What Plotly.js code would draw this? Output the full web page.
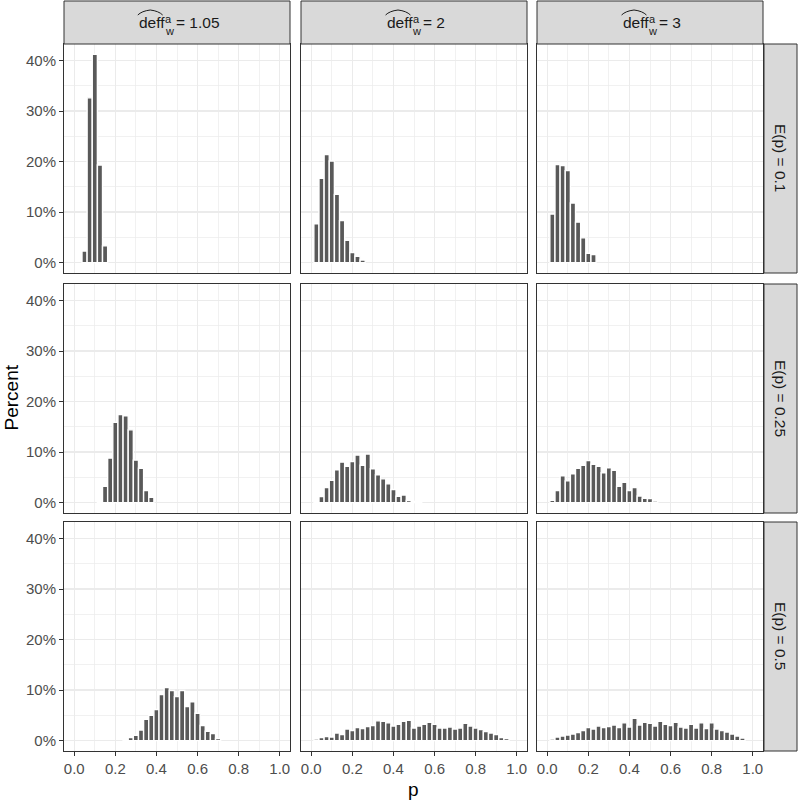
<!DOCTYPE html>
<html><head><meta charset="utf-8">
<script src="https://cdn.plot.ly/plotly-3.0.1.min.js"></script>
<style>html,body{margin:0;padding:0;background:#fff}#chart{width:800px;height:800px}</style>
</head><body><div id="chart"></div>
<script>
// ---- data ----
const colLabels = ['1.05', '2', '3'];          // deff_w^a values (columns)
const rowLabels = ['0.1', '0.25', '0.5'];       // E(p) values (rows)
const xTitle = 'p';
const yTitle = 'Percent';

// bin centres (p) and percentages per panel, row by row
const p_r1c1 = [0.05, 0.075, 0.1, 0.125, 0.15];
const pct_r1c1 = [2.3, 32.6, 41.2, 19.3, 3.3];
const p_r1c2 = [0.025, 0.05, 0.075, 0.1, 0.125, 0.15, 0.175, 0.2, 0.225, 0.25];
const pct_r1c2 = [7.7, 16.7, 21.4, 20.1, 13.5, 8.3, 4.4, 2.0, 1.25, 0.5];
const p_r1c3 = [0.025, 0.05, 0.075, 0.1, 0.125, 0.15, 0.175, 0.2, 0.225];
const pct_r1c3 = [9.6, 19.4, 19.2, 18.2, 11.8, 8.0, 4.9, 1.85, 1.6];

const p_r2c1 = [0.125, 0.15, 0.175, 0.2, 0.225, 0.25, 0.275, 0.3, 0.325, 0.35, 0.375];
const pct_r2c1 = [0.1, 3.2, 8.8, 15.9, 17.4, 17.2, 14.4, 8.4, 6.8, 2.4, 1.05];
const p_r2c2 = [0.025, 0.05, 0.075, 0.1, 0.125, 0.15, 0.175, 0.2, 0.225, 0.25, 0.275, 0.3, 0.325, 0.35, 0.375, 0.4, 0.425, 0.45, 0.475, 0.5, 0.525];
const pct_r2c2 = [0.2, 1.2, 3.0, 4.4, 6.5, 8.0, 7.2, 8.1, 9.4, 7.4, 9.6, 6.7, 5.5, 4.7, 3.7, 2.6, 1.25, 1.5, 0.4, 0.25, 0.25];
const p_r2c3 = [0.025, 0.05, 0.075, 0.1, 0.125, 0.15, 0.175, 0.2, 0.225, 0.25, 0.275, 0.3, 0.325, 0.35, 0.375, 0.4, 0.425, 0.45, 0.475, 0.5, 0.525];
const pct_r2c3 = [0.45, 2.4, 5.3, 4.3, 5.7, 6.8, 7.4, 8.3, 7.6, 7.2, 5.9, 6.9, 6.4, 3.2, 4.0, 2.4, 3.0, 1.3, 0.85, 0.8, 0.3];

const p_r3c1 = [0.25, 0.275, 0.3, 0.325, 0.35, 0.375, 0.4, 0.425, 0.45, 0.475, 0.5, 0.525, 0.55, 0.575, 0.6, 0.625, 0.65, 0.675, 0.7];
const pct_r3c1 = [0.1, 0.6, 1.05, 2.1, 4.2, 5.0, 6.15, 9.1, 10.5, 9.9, 8.7, 9.9, 6.75, 7.7, 5.4, 3.0, 1.85, 1.4, 0.4];
const p_r3c2 = [0.025, 0.05, 0.075, 0.1, 0.125, 0.15, 0.175, 0.2, 0.225, 0.25, 0.275, 0.3, 0.325, 0.35, 0.375, 0.4, 0.425, 0.45, 0.475, 0.5, 0.525, 0.55, 0.575, 0.6, 0.625, 0.65, 0.675, 0.7, 0.725, 0.75, 0.775, 0.8, 0.825, 0.85, 0.875, 0.9, 0.925, 0.95];
const pct_r3c2 = [0.3, 0.6, 0.8, 0.7, 1.5, 1.2, 2.3, 2.0, 2.6, 2.4, 2.8, 3.0, 3.9, 3.8, 3.5, 2.9, 3.2, 3.8, 4.0, 2.5, 2.9, 3.2, 3.6, 3.2, 2.5, 2.5, 2.7, 2.3, 2.5, 3.4, 2.9, 2.5, 2.2, 1.8, 1.5, 1.2, 0.6, 0.4];
const p_r3c3 = [0.025, 0.05, 0.075, 0.1, 0.125, 0.15, 0.175, 0.2, 0.225, 0.25, 0.275, 0.3, 0.325, 0.35, 0.375, 0.4, 0.425, 0.45, 0.475, 0.5, 0.525, 0.55, 0.575, 0.6, 0.625, 0.65, 0.675, 0.7, 0.725, 0.75, 0.775, 0.8, 0.825, 0.85, 0.875, 0.9, 0.925, 0.95];
const pct_r3c3 = [0.3, 0.7, 0.9, 1.1, 1.3, 1.6, 2.0, 2.6, 2.3, 2.9, 2.6, 2.8, 3.1, 2.6, 3.5, 2.7, 4.4, 3.1, 3.6, 3.4, 2.9, 3.8, 3.2, 3.0, 3.6, 2.7, 2.5, 3.2, 2.5, 3.5, 2.4, 3.5, 2.3, 2.0, 1.7, 1.3, 0.9, 0.5];

const panels = [
  [[p_r1c1, pct_r1c1], [p_r1c2, pct_r1c2], [p_r1c3, pct_r1c3]],
  [[p_r2c1, pct_r2c1], [p_r2c2, pct_r2c2], [p_r2c3, pct_r2c3]],
  [[p_r3c1, pct_r3c1], [p_r3c2, pct_r3c2], [p_r3c3, pct_r3c3]]
];
const binWidth = 0.025;

// ---- geometry (pixels in an 800x800 page) ----
const W = 800, H = 800;
const colPx = [[64, 290], [301, 527], [537, 763]];
const rowPx = [[44, 273], [284, 513], [522, 751]];
const topStrip = [1, 44];
const rightStrip = [764, 797];
const fx = x => x / W, fy = y => 1 - y / H;

const FONT = 'Liberation Sans, Arial, Helvetica, sans-serif';
const traces = [];
const layout = {
  width: W, height: H,
  margin: {l: 0, r: 0, t: 0, b: 0, pad: 0},
  paper_bgcolor: '#ffffff', plot_bgcolor: '#ffffff',
  showlegend: false,
  font: {family: FONT, size: 15, color: '#1a1a1a'},
  shapes: [], annotations: []
};

for (let r = 0; r < 3; r++) {
  for (let c = 0; c < 3; c++) {
    const i = r * 3 + c + 1;
    const s = i === 1 ? '' : String(i);
    const [px, pv] = panels[r][c];
    traces.push({
      type: 'bar', x: px, y: pv, width: binWidth,
      xaxis: 'x' + s, yaxis: 'y' + s,
      marker: {color: '#595959', line: {color: '#ffffff', width: 1.4}},
      hoverinfo: 'skip'
    });
    layout['xaxis' + s] = {
      domain: [fx(colPx[c][0]), fx(colPx[c][1])], anchor: 'y' + s,
      range: [-0.05, 1.05], tick0: 0, dtick: 0.2, tickformat: '.1f',
      showticklabels: r === 2, ticks: r === 2 ? 'outside' : '',
      ticklen: 4, tickwidth: 1, tickcolor: '#333333',
      tickfont: {family: FONT, size: 15, color: '#4d4d4d'},
      showgrid: true, gridcolor: '#ebebeb', gridwidth: 1.4,
      minor: {tick0: 0, dtick: 0.1, showgrid: true, gridcolor: '#ebebeb', gridwidth: 0.7, ticks: ''},
      zeroline: false, showline: true, mirror: true, linecolor: '#333333', linewidth: 1,
      fixedrange: true
    };
    layout['yaxis' + s] = {
      domain: [fy(rowPx[r][1]), fy(rowPx[r][0])], anchor: 'x' + s,
      range: [-2.06, 43.26], tick0: 0, dtick: 10, ticksuffix: '%',
      showticklabels: c === 0, ticks: c === 0 ? 'outside' : '',
      ticklen: 4, tickwidth: 1, tickcolor: '#333333',
      tickfont: {family: FONT, size: 15, color: '#4d4d4d'},
      showgrid: true, gridcolor: '#ebebeb', gridwidth: 1.4,
      minor: {tick0: 0, dtick: 5, showgrid: true, gridcolor: '#ebebeb', gridwidth: 0.7, ticks: ''},
      zeroline: false, showline: true, mirror: true, linecolor: '#333333', linewidth: 1,
      fixedrange: true
    };
  }
}

// ---- strips ----
const stripStyle = {type: 'rect', xref: 'paper', yref: 'paper', fillcolor: '#d9d9d9', line: {color: '#333333', width: 1}, layer: 'above'};
const charW = {'=': 0.584, ' ': 0.278, '.': 0.278};
const textWidth = (t, fs) => t.split('').reduce((a, ch) => a + (charW[ch] !== undefined ? charW[ch] : 0.556), 0) * fs;
const SFS = 15.5;     // strip font size
const baseY = 28;     // baseline (px) of column strip text

for (let c = 0; c < 3; c++) {
  layout.shapes.push(Object.assign({}, stripStyle, {x0: fx(colPx[c][0]), x1: fx(colPx[c][1]), y0: fy(topStrip[1]), y1: fy(topStrip[0])}));
  const cx = (colPx[c][0] + colPx[c][1]) / 2;
  const eq = '= ' + colLabels[c];
  const wDeff = 1.668 * SFS, wScript = 8, gap = 3, wEq = textWidth(eq, SFS);
  const x0 = cx - (wDeff + wScript + gap + wEq) / 2;
  const textMid = baseY - 0.36 * SFS;
  layout.annotations.push({xref: 'paper', yref: 'paper', x: fx(x0), y: fy(textMid), xanchor: 'left', yanchor: 'middle',
    text: 'deff', showarrow: false, font: {family: FONT, size: SFS, color: '#1a1a1a'}});
  layout.annotations.push({xref: 'paper', yref: 'paper', x: fx(x0 + wDeff + 0.5), y: fy(baseY - 9), xanchor: 'left', yanchor: 'middle',
    text: 'a', showarrow: false, font: {family: FONT, size: 11, color: '#1a1a1a'}});
  layout.annotations.push({xref: 'paper', yref: 'paper', x: fx(x0 + wDeff), y: fy(baseY + 3), xanchor: 'left', yanchor: 'middle',
    text: 'w', showarrow: false, font: {family: FONT, size: 11, color: '#1a1a1a'}});
  layout.annotations.push({xref: 'paper', yref: 'paper', x: fx(x0 + wDeff + wScript + gap), y: fy(textMid), xanchor: 'left', yanchor: 'middle',
    text: eq, showarrow: false, font: {family: FONT, size: SFS, color: '#1a1a1a'}});
  // wide hat over "deff"
  const hx0 = x0 + 1, hx1 = x0 + wDeff, hm = (hx0 + hx1) / 2, hb = baseY - 13, ht = hb - 5;
  layout.shapes.push({type: 'path', xref: 'paper', yref: 'paper', layer: 'above',
    path: `M ${fx(hx0)} ${fy(hb)} Q ${fx(hx0 + 4)} ${fy(ht + 1)} ${fx(hm)} ${fy(ht)} Q ${fx(hx1 - 4)} ${fy(ht + 1)} ${fx(hx1)} ${fy(hb)}`,
    line: {color: '#1a1a1a', width: 1}});
}
for (let r = 0; r < 3; r++) {
  layout.shapes.push(Object.assign({}, stripStyle, {x0: fx(rightStrip[0]), x1: fx(rightStrip[1]), y0: fy(rowPx[r][1]), y1: fy(rowPx[r][0])}));
  layout.annotations.push({xref: 'paper', yref: 'paper', x: fx((rightStrip[0] + rightStrip[1]) / 2), y: fy((rowPx[r][0] + rowPx[r][1]) / 2),
    xanchor: 'center', yanchor: 'middle', textangle: 90, text: 'E(p) = ' + rowLabels[r], showarrow: false,
    font: {family: FONT, size: SFS, color: '#1a1a1a'}});
}

// ---- axis titles ----
layout.annotations.push({xref: 'paper', yref: 'paper', x: fx((colPx[0][0] + colPx[2][1]) / 2), y: fy(789), xanchor: 'center', yanchor: 'middle',
  text: xTitle, showarrow: false, font: {family: FONT, size: 19, color: '#000000'}});
layout.annotations.push({xref: 'paper', yref: 'paper', x: fx(11), y: fy((rowPx[0][0] + rowPx[2][1]) / 2), xanchor: 'center', yanchor: 'middle',
  textangle: -90, text: yTitle, showarrow: false, font: {family: FONT, size: 19, color: '#000000'}});

Plotly.newPlot('chart', traces, layout, {staticPlot: true, displayModeBar: false});
</script></body></html>
